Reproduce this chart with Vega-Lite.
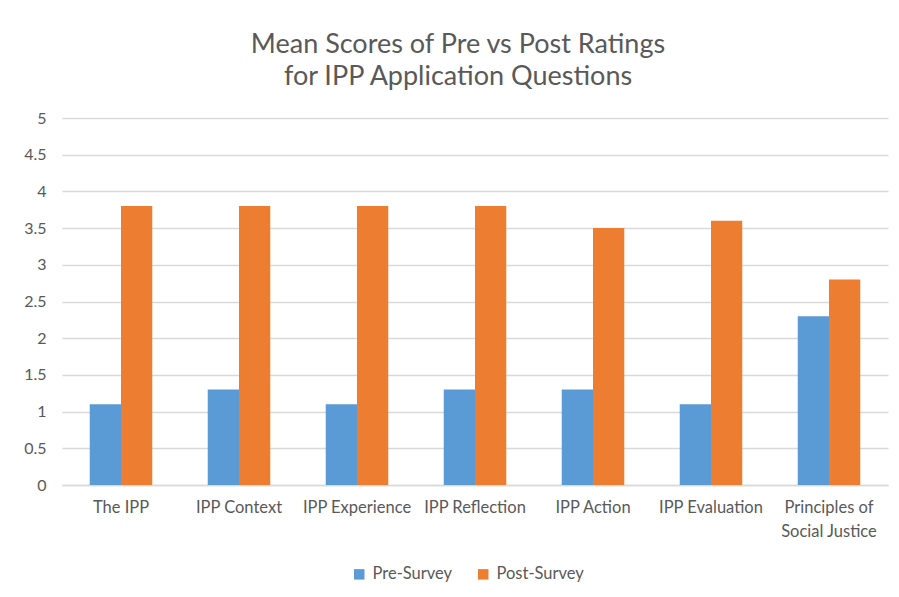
{
  "$schema": "https://vega.github.io/schema/vega-lite/v6.json",
  "width": 826,
  "height": 367,
  "autosize": {"type": "none"},
  "padding": {"left": 62, "top": 118, "right": 11, "bottom": 112},
  "background": "white",
  "title": {
    "text": ["Mean Scores of Pre vs Post Ratings", "for IPP Application Questions"],
    "font": "Lato",
    "fontSize": 27,
    "fontWeight": "normal",
    "color": "#595959",
    "anchor": "middle",
    "dx": -17,
    "offset": 19,
    "lineHeight": 32
  },
  "data": {
    "values": [
      {"question": "The IPP", "survey": "Pre-Survey", "score": 1.1},
      {"question": "The IPP", "survey": "Post-Survey", "score": 3.8},
      {"question": "IPP Context", "survey": "Pre-Survey", "score": 1.3},
      {"question": "IPP Context", "survey": "Post-Survey", "score": 3.8},
      {"question": "IPP Experience", "survey": "Pre-Survey", "score": 1.1},
      {"question": "IPP Experience", "survey": "Post-Survey", "score": 3.8},
      {"question": "IPP Reflection", "survey": "Pre-Survey", "score": 1.3},
      {"question": "IPP Reflection", "survey": "Post-Survey", "score": 3.8},
      {"question": "IPP Action", "survey": "Pre-Survey", "score": 1.3},
      {"question": "IPP Action", "survey": "Post-Survey", "score": 3.5},
      {"question": "IPP Evaluation", "survey": "Pre-Survey", "score": 1.1},
      {"question": "IPP Evaluation", "survey": "Post-Survey", "score": 3.6},
      {"question": "Principles of Social Justice", "survey": "Pre-Survey", "score": 2.3},
      {"question": "Principles of Social Justice", "survey": "Post-Survey", "score": 2.8}
    ]
  },
  "mark": {"type": "bar"},
  "encoding": {
    "x": {
      "field": "question",
      "type": "nominal",
      "sort": null,
      "scale": {"paddingInner": 0.47, "paddingOuter": 0.235},
      "axis": {
        "title": null,
        "labelAngle": 0,
        "labelFont": "Lato",
        "labelFontSize": 16.5,
        "labelColor": "#595959",
        "labelPadding": 14,
        "labelLineHeight": 24,
        "ticks": false,
        "domainColor": "#d9d9d9",
        "domainWidth": 1.3,
        "labelExpr": "datum.label == 'Principles of Social Justice' ? ['Principles of', 'Social Justice'] : datum.label"
      }
    },
    "xOffset": {"field": "survey", "type": "nominal", "sort": ["Pre-Survey", "Post-Survey"]},
    "y": {
      "field": "score",
      "type": "quantitative",
      "scale": {"domain": [0, 5], "nice": false},
      "axis": {
        "title": null,
        "values": [0, 0.5, 1, 1.5, 2, 2.5, 3, 3.5, 4, 4.5, 5],
        "format": "~g",
        "labelFont": "Lato",
        "labelFontSize": 16,
        "labelColor": "#595959",
        "labelPadding": 16,
        "ticks": false,
        "domain": false,
        "gridColor": "#d9d9d9",
        "gridWidth": 1.3
      }
    },
    "color": {
      "field": "survey",
      "type": "nominal",
      "sort": ["Pre-Survey", "Post-Survey"],
      "scale": {"domain": ["Pre-Survey", "Post-Survey"], "range": ["#5B9BD5", "#ED7D31"]},
      "legend": {
        "title": null,
        "orient": "none",
        "legendX": 289,
        "legendY": 448,
        "direction": "horizontal",
        "symbolType": "square",
        "symbolSize": 110,
        "symbolStrokeWidth": 0,
        "labelFont": "Lato",
        "labelFontSize": 16.5,
        "labelColor": "#595959",
        "columnPadding": 22,
        "labelOffset": 5
      }
    }
  },
  "config": {
    "view": {"stroke": null}
  }
}
